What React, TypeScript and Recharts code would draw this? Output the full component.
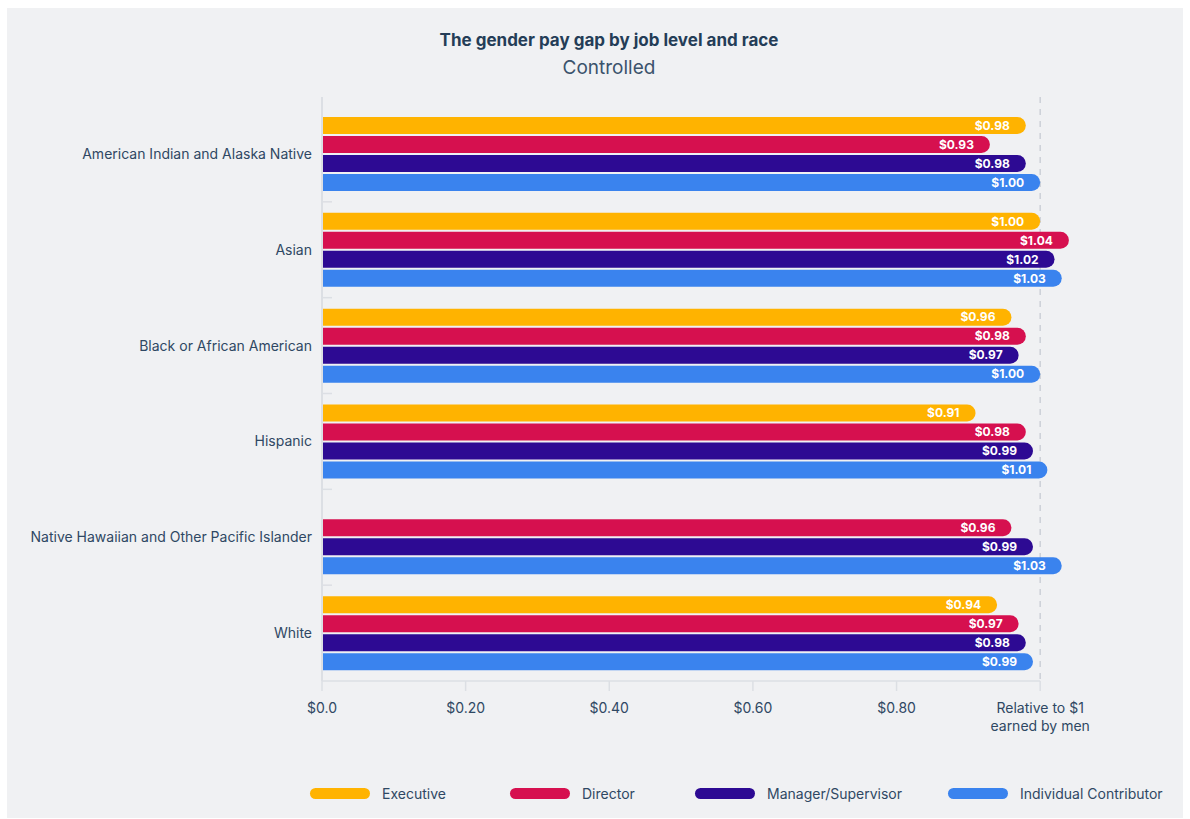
import React from 'react';
import {
  BarChart,
  Bar,
  XAxis,
  YAxis,
  CartesianGrid,
  ReferenceLine,
  LabelList,
} from 'recharts';

const categories = [
  'American Indian and Alaska Native',
  'Asian',
  'Black or African American',
  'Hispanic',
  'Native Hawaiian and Other Pacific Islander',
  'White',
];

const executive = [0.98, 1.0, 0.96, 0.91, null, 0.94];
const director = [0.93, 1.04, 0.98, 0.98, 0.96, 0.97];
const manager = [0.98, 1.02, 0.97, 0.99, 0.99, 0.98];
const contributor = [1.0, 1.03, 1.0, 1.01, 1.03, 0.99];

const xTicks = [0, 0.2, 0.4, 0.6, 0.8, 1.0];

const series = [
  { key: 'executive', name: 'Executive', color: '#FFB300' },
  { key: 'director', name: 'Director', color: '#D6104F' },
  { key: 'manager', name: 'Manager/Supervisor', color: '#2D0A93' },
  { key: 'contributor', name: 'Individual Contributor', color: '#3A83EE' },
];

const data = categories.map((name, i) => ({
  name,
  executive: executive[i],
  director: director[i],
  manager: manager[i],
  contributor: contributor[i],
}));

const TEXT = '#2f4863';
const AXIS = '#dcdfe4';
const FONT = 'Inter, "Noto Sans", sans-serif';

const money = (v: any) => (v == null ? '' : `$${Number(v).toFixed(2)}`);

const XTick = (props: any) => {
  const { x, y, payload } = props;
  const v = payload.value;
  if (v === 1) {
    return (
      <text x={x} y={y + 20} textAnchor="middle" fill={TEXT} fontSize={14} fontFamily={FONT}>
        <tspan x={x}>Relative to $1</tspan>
        <tspan x={x} dy={18}>earned by men</tspan>
      </text>
    );
  }
  const label = v === 0 ? '$0.0' : `$${v.toFixed(2)}`;
  return (
    <text x={x} y={y + 20} textAnchor="middle" fill={TEXT} fontSize={14} fontFamily={FONT}>
      {label}
    </text>
  );
};

const YTick = (props: any) => {
  const { x, y, payload, index } = props;
  const half = payload.offset || 48;
  return (
    <g>
      <text x={x - 2} y={y} dy={5} textAnchor="end" fill={TEXT} fontSize={14} fontFamily={FONT}>
        {payload.value}
      </text>
      {index < categories.length - 1 && (
        <line x1={x + 8} x2={x + 18} y1={y + half} y2={y + half} stroke={AXIS} strokeWidth={1.5} />
      )}
    </g>
  );
};

const legendLeft = [303, 503, 688, 941];

export default function App() {
  return (
    <div
      style={{
        position: 'absolute',
        left: 7,
        top: 8,
        width: 1176,
        height: 810,
        background: '#f0f1f3',
        fontFamily: FONT,
      }}
    >
      <div
        style={{
          position: 'absolute',
          left: 0,
          width: 1204,
          top: 22,
          textAlign: 'center',
          color: '#243d57',
          fontSize: 17,
          fontWeight: 700,
        }}
      >
        The gender pay gap by job level and race
      </div>
      <div
        style={{
          position: 'absolute',
          left: 0,
          width: 1204,
          top: 48,
          textAlign: 'center',
          color: '#3b536c',
          fontSize: 19,
        }}
      >
        Controlled
      </div>
      <div style={{ position: 'absolute', left: 0, top: 0 }}>
        <BarChart
          width={1176}
          height={730}
          data={data}
          layout="vertical"
          margin={{ top: 89, right: 71, bottom: 0, left: 0 }}
          barSize={17}
          barGap={2}
        >
          <CartesianGrid
            horizontal={false}
            vertical={true}
            verticalValues={[1]}
            stroke="#ccd0d7"
            strokeWidth={1.5}
            strokeDasharray="6 6"
          />
          <XAxis
            type="number"
            domain={[0, 1.1]}
            ticks={xTicks}
            tick={<XTick />}
            tickSize={10}
            tickLine={{ stroke: AXIS, strokeWidth: 1.5 }}
            axisLine={false}
            height={57}
            interval={0}
          />
          <YAxis
            type="category"
            dataKey="name"
            width={315}
            tick={<YTick />}
            tickLine={false}
            axisLine={{ stroke: AXIS, strokeWidth: 2 }}
            padding={{ top: 9, bottom: 0 }}
            interval={0}
          />
          <ReferenceLine
            segment={[
              { x: 0, y: categories[categories.length - 1] },
              { x: 1, y: categories[categories.length - 1] },
            ]}
            position="end"
            stroke={AXIS}
            strokeWidth={1.5}
          />
          {series.map((s) => (
            <Bar
              key={s.key}
              dataKey={s.key}
              name={s.name}
              fill={s.color}
              radius={[0, 9, 9, 0]}
              isAnimationActive={false}
            >
              <LabelList
                dataKey={s.key}
                position="insideRight"
                offset={16}
                formatter={money}
                fill="#ffffff"
                fontSize={12}
                fontWeight={700}
                fontFamily={FONT}
              />
            </Bar>
          ))}
        </BarChart>
      </div>
      {series.map((s, i) => (
        <div
          key={s.key}
          style={{
            position: 'absolute',
            left: legendLeft[i],
            top: 776,
            height: 18,
            display: 'flex',
            alignItems: 'center',
            color: TEXT,
            fontSize: 14,
          }}
        >
          <span
            style={{
              display: 'inline-block',
              width: 60,
              height: 11,
              borderRadius: 6,
              background: s.color,
              marginRight: 12,
            }}
          />
          {s.name}
        </div>
      ))}
    </div>
  );
}
